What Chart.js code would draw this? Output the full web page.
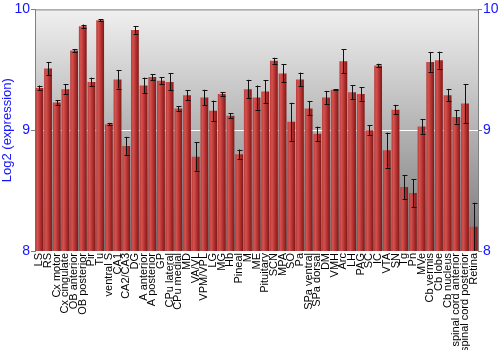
<!DOCTYPE html>
<html>
<head>
<meta charset="utf-8">
<script src="https://cdn.jsdelivr.net/npm/chart.js@4.4.0/dist/chart.umd.min.js"></script>
<style>
  body { margin: 0; background: #fff; }
  #wrap { width: 500px; height: 350px; }
</style>
</head>
<body>
<div id="wrap"><canvas id="exprChart" width="500" height="350"></canvas></div>
<script>
// tissue labels
const tissues = ['LS', 'RS', 'Cx motor', 'Cx cingulate', 'OB anterior', 'OB posterior', 'Pir', 'Tu',
  'ventral S', 'CA1', 'CA2/CA3', 'DG', 'A anterior', 'A posterior', 'GP', 'CPu lateral', 'CPu medial',
  'MD', 'VA/VL', 'VPM/VPL', 'LG', 'MG', 'Hb', 'Pineal', 'M', 'ME', 'Pituitary', 'SCN', 'MPA', 'SO',
  'Pa', 'SPa ventral', 'SPa dorsal', 'DM', 'VMH', 'Arc', 'LH', 'PAG', 'SC', 'IC', 'VTA', 'SN', 'Tg',
  'Pn', 'MVe', 'Cb vermis', 'Cb lobe', 'Cb nucleus', 'spinal cord anterior', 'spinal cord posterior', 'Retina'];

// mean log2 expression
const expression = [9.35, 9.51, 9.23, 9.34, 9.66, 9.86, 9.40, 9.91,
  9.05, 9.42, 8.87, 9.83, 9.37, 9.44, 9.41, 9.40, 9.18,
  9.29, 8.78, 9.27, 9.16, 9.30, 9.12, 8.80, 9.34, 9.27, 9.32, 9.575, 9.47, 9.07,
  9.42, 9.18, 8.97, 9.27, 9.335, 9.57, 9.315, 9.30, 9.00, 9.535, 8.835, 9.17, 8.53,
  8.48, 9.03, 9.565, 9.58, 9.29, 9.11, 9.22, 8.20];

// error (+/-)
const errors = [0.02, 0.055, 0.02, 0.04, 0.01, 0.015, 0.035, 0.01,
  0.01, 0.075, 0.075, 0.03, 0.065, 0.025, 0.03, 0.07, 0.02,
  0.04, 0.12, 0.065, 0.085, 0.015, 0.02, 0.04, 0.077, 0.1, 0.095, 0.025, 0.075, 0.157,
  0.057, 0.058, 0.06, 0.055, 0.005, 0.1, 0.057, 0.055, 0.04, 0.015, 0.145, 0.04, 0.1,
  0.115, 0.06, 0.08, 0.07, 0.052, 0.055, 0.16, 0.2];

const yTicks = [8, 9, 10];

const blue = '#1414ff';
const axisGray = '#808080';

// plot background + top border
const bgPlugin = {
  id: 'bgPlugin',
  beforeDraw(chart) {
    const a = chart.chartArea;
    if (!a) return;
    const ctx = chart.ctx;
    const g = ctx.createLinearGradient(0, a.top, 0, a.bottom);
    g.addColorStop(0, '#f0f0f0');
    g.addColorStop(1, '#767676');
    ctx.save();
    ctx.fillStyle = g;
    ctx.fillRect(a.left, a.top, a.right - a.left, a.bottom - a.top);
    ctx.restore();
  },
  afterDraw(chart) {
    const a = chart.chartArea;
    const ctx = chart.ctx;
    ctx.save();
    ctx.strokeStyle = axisGray;
    ctx.lineWidth = 1;
    ctx.beginPath();
    ctx.moveTo(a.left, a.top + 0.5);
    ctx.lineTo(a.right, a.top + 0.5);
    ctx.stroke();
    ctx.restore();
  }
};

// error bars
const errorPlugin = {
  id: 'errorPlugin',
  afterDatasetsDraw(chart) {
    const ctx = chart.ctx;
    const y = chart.scales.y;
    const meta = chart.getDatasetMeta(0);
    const a = chart.chartArea;
    ctx.save();
    ctx.beginPath();
    ctx.rect(a.left, a.top, a.right - a.left, a.bottom - a.top);
    ctx.clip();
    ctx.strokeStyle = '#111';
    ctx.lineWidth = 1;
    meta.data.forEach((bar, i) => {
      const x = Math.round(bar.x) + 0.5;
      const hi = y.getPixelForValue(expression[i] + errors[i]);
      const lo = y.getPixelForValue(expression[i] - errors[i]);
      ctx.beginPath();
      ctx.moveTo(x, hi);
      ctx.lineTo(x, lo);
      ctx.moveTo(x - 2, Math.round(hi) + 0.5);
      ctx.lineTo(x + 3, Math.round(hi) + 0.5);
      ctx.moveTo(x - 2, Math.round(lo) + 0.5);
      ctx.lineTo(x + 3, Math.round(lo) + 0.5);
      ctx.stroke();
    });
    ctx.restore();
  }
};

function barFill(context) {
  const chart = context.chart;
  const xs = chart.scales.x;
  if (!chart.chartArea || !xs) return '#b03030';
  const cx = xs.getPixelForValue(context.dataIndex);
  const half = (xs.width / tissues.length) * 0.45;
  const g = chart.ctx.createLinearGradient(cx - half, 0, cx + half, 0);
  g.addColorStop(0, '#b83a38');
  g.addColorStop(0.25, '#d4524f');
  g.addColorStop(0.6, '#b53331');
  g.addColorStop(1, '#7e1818');
  return g;
}

const ctx = document.getElementById('exprChart').getContext('2d');
new Chart(ctx, {
  type: 'bar',
  data: {
    labels: tissues,
    datasets: [{
      data: expression,
      backgroundColor: barFill,
      borderWidth: 0,
      barPercentage: 0.9,
      categoryPercentage: 1.0
    }]
  },
  options: {
    responsive: false,
    animation: false,
    layout: { padding: { top: 9, right: 0, left: 0, bottom: 0 } },
    plugins: { legend: { display: false }, tooltip: { enabled: false } },
    scales: {
      x: {
        grid: { display: false, drawTicks: false },
        border: { display: false },
        ticks: {
          color: '#000',
          font: { family: 'Liberation Sans, Arial, sans-serif', size: 11 },
          minRotation: 90,
          maxRotation: 90,
          autoSkip: false,
          padding: 2
        },
        afterFit(scale) { scale.height = 99; }
      },
      y: {
        position: 'left',
        min: 8,
        max: 10,
        afterBuildTicks(scale) { scale.ticks = yTicks.map(v => ({ value: v })); },
        grid: {
          color: c => (c.tick && c.tick.value === 9 ? '#ffffff' : 'rgba(0,0,0,0)'),
          tickColor: axisGray,
          tickLength: 4,
          lineWidth: 1
        },
        border: { color: axisGray },
        ticks: {
          color: blue,
          font: { family: 'Liberation Sans, Arial, sans-serif', size: 14 },
          padding: 1
        },
        title: {
          display: true,
          text: 'Log2 (expression)',
          color: blue,
          font: { family: 'Liberation Sans, Arial, sans-serif', size: 13 },
          padding: 0
        },
        afterFit(scale) { scale.width = 35; }
      },
      y2: {
        position: 'right',
        min: 8,
        max: 10,
        afterBuildTicks(scale) { scale.ticks = yTicks.map(v => ({ value: v })); },
        grid: { drawOnChartArea: false, tickColor: axisGray, tickLength: 4 },
        border: { color: axisGray },
        ticks: {
          color: blue,
          font: { family: 'Liberation Sans, Arial, sans-serif', size: 14 },
          padding: 1
        },
        afterFit(scale) { scale.width = 22; }
      }
    }
  },
  plugins: [bgPlugin, errorPlugin]
});
</script>
</body>
</html>
